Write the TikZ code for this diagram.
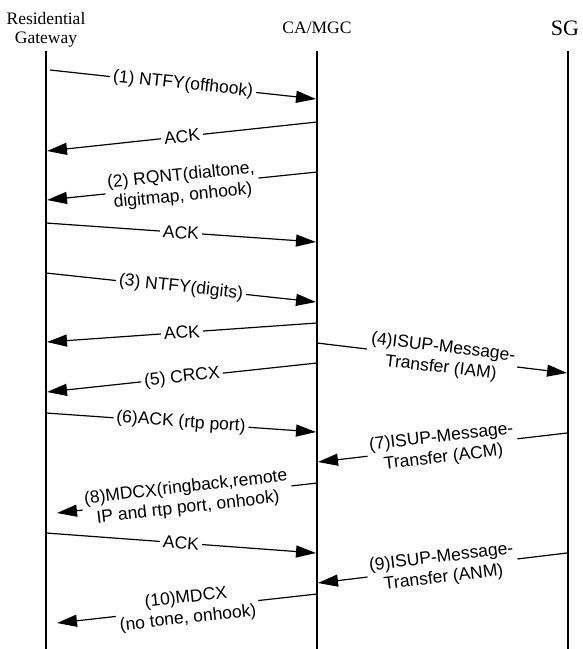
\documentclass[tikz,border=0pt]{standalone}
\usepackage{fontspec}
\setmainfont{Liberation Serif}
\newfontfamily\arialf{Liberation Sans}
\usetikzlibrary{arrows.meta}
\begin{document}
\begin{tikzpicture}[x=1pt,y=-1pt,
  lifeline/.style={line width=1.3pt},
  msg/.style={line width=1.2pt,-{Triangle[length=20pt,width=12pt]}},
  lbl/.style={sloped,fill=white,inner xsep=3pt,inner ysep=0.5pt,align=center,
    font=\arialf\fontsize{17.5}{20.5}\selectfont},
  hdr/.style={font=\fontsize{17.5}{19}\selectfont,align=center,inner sep=0pt}]
\useasboundingbox[fill=white] (0,0) rectangle (582,649);
% headers
\node[hdr] (rg) at (46,30) {Residential\\Gateway};
\node[hdr] (ca) at (317,28) {CA/MGC};
\node[hdr,font=\fontsize{22}{24}\selectfont] (sg) at (565,28) {SG};
% lifelines
\coordinate (rgtop) at (46,51);  \coordinate (rgbot) at (46,649);
\coordinate (catop) at (317,51); \coordinate (cabot) at (317,649);
\coordinate (sgtop) at (568,51); \coordinate (sgbot) at (568,649);
\draw[lifeline] (rgtop) -- (rgbot);
\draw[lifeline] (catop) -- (cabot);
\draw[lifeline] (sgtop) -- (sgbot);
% message end points
\coordinate (m1s) at (50,70);   \coordinate (m1e) at (316,99);
\coordinate (a1s) at (317,122); \coordinate (a1e) at (47,151);
\coordinate (m2s) at (317,172); \coordinate (m2e) at (47,200);
\coordinate (a2s) at (46,223);  \coordinate (a2e) at (316,242);
\coordinate (m3s) at (46,273);  \coordinate (m3e) at (316,302);
\coordinate (a3s) at (317,323); \coordinate (a3e) at (47,342);
\coordinate (m4s) at (317,343); \coordinate (m4e) at (567,373);
\coordinate (m5s) at (317,363); \coordinate (m5e) at (47,392);
\coordinate (m6s) at (46,413);  \coordinate (m6e) at (316,432);
\coordinate (m7s) at (567,433); \coordinate (m7e) at (318,462);
\coordinate (m8s) at (317,483); \coordinate (m8e) at (57,513);
\coordinate (a4s) at (46,533);  \coordinate (a4e) at (316,553);
\coordinate (m9s) at (567,553); \coordinate (m9e) at (318,583);
\coordinate (m10s) at (317,594); \coordinate (m10e) at (57,623);
% messages
\draw[msg] (m1s) -- node[lbl] {(1) NTFY(offhook)} (m1e);
\draw[msg] (a1s) -- node[lbl] {ACK} (a1e);
\draw[msg] (m2s) -- node[lbl] {(2) RQNT(dialtone,\\digitmap, onhook)} (m2e);
\draw[msg] (a2s) -- node[lbl] {ACK} (a2e);
\draw[msg] (m3s) -- node[lbl] {(3) NTFY(digits)} (m3e);
\draw[msg] (a3s) -- node[lbl] {ACK} (a3e);
\draw[msg] (m4s) -- node[lbl] {(4)ISUP-Message-\\Transfer (IAM)} (m4e);
\draw[msg] (m5s) -- node[lbl] {(5) CRCX} (m5e);
\draw[msg] (m6s) -- node[lbl] {(6)ACK (rtp port)} (m6e);
\draw[msg] (m7s) -- node[lbl] {(7)ISUP-Message-\\Transfer (ACM)} (m7e);
\draw[msg] (m8s) -- node[lbl] {(8)MDCX(ringback,remote\\IP and rtp port, onhook)} (m8e);
\draw[msg] (a4s) -- node[lbl] {ACK} (a4e);
\draw[msg] (m9s) -- node[lbl] {(9)ISUP-Message-\\Transfer (ANM)} (m9e);
\draw[msg] (m10s) -- node[lbl] {(10)MDCX\\(no tone, onhook)} (m10e);
\end{tikzpicture}
\end{document}
